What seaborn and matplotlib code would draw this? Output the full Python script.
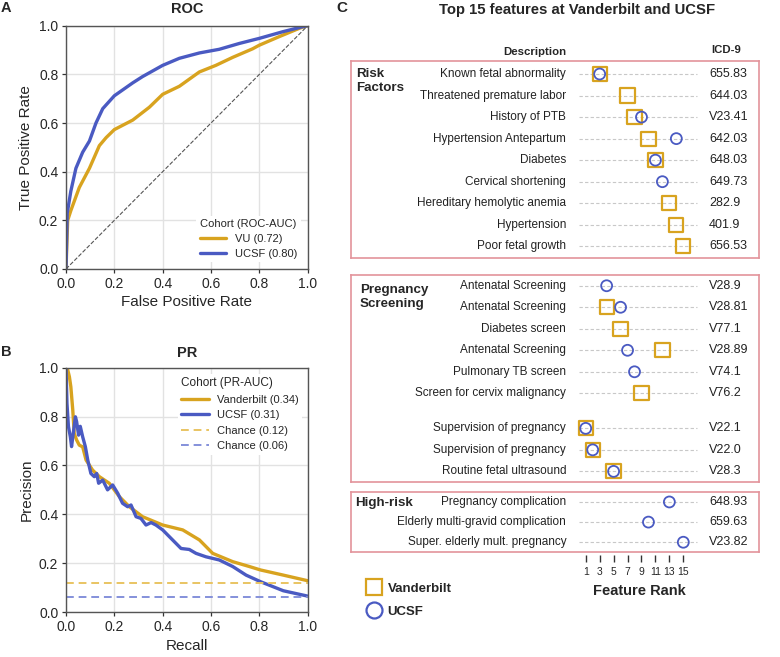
import numpy as np
import pandas as pd
import matplotlib
matplotlib.use('Agg')
import matplotlib.pyplot as plt
from matplotlib.lines import Line2D
import seaborn as sns

# ---- ROC curves
roc_fpr_vu = [0, 0.007, 0.02, 0.055, 0.097, 0.138, 0.166, 0.2, 0.276, 0.345,
              0.4, 0.469, 0.552, 0.62, 0.69, 0.772, 0.8, 0.882, 0.967, 1.0]
roc_tpr_vu = [0, 0.2, 0.24, 0.335, 0.414, 0.507, 0.54, 0.573, 0.612, 0.665,
              0.718, 0.751, 0.81, 0.837, 0.87, 0.905, 0.92, 0.955, 0.99, 1.0]
roc_fpr_ucsf = [0, 0.005, 0.02, 0.041, 0.069, 0.097, 0.124, 0.152, 0.2, 0.276,
                0.317, 0.4, 0.469, 0.552, 0.634, 0.717, 0.8, 0.896, 0.98, 1.0]
roc_tpr_ucsf = [0, 0.229, 0.32, 0.414, 0.48, 0.526, 0.6, 0.659, 0.712, 0.765,
                0.791, 0.837, 0.866, 0.888, 0.903, 0.927, 0.948, 0.975, 0.996, 1.0]
roc_auc = {'VU': 0.72, 'UCSF': 0.80}

# ---- PR curves
pr_recall_vu = [0, 0.005, 0.014, 0.02, 0.028, 0.034, 0.044, 0.055, 0.069, 0.083,
                0.11, 0.138, 0.179, 0.221, 0.262, 0.317, 0.4, 0.483, 0.552, 0.607,
                0.69, 0.759, 0.805, 0.899, 1.0]
pr_prec_vu = [1.0, 1.0, 0.963, 0.922, 0.827, 0.731, 0.704, 0.683, 0.676, 0.622,
              0.581, 0.554, 0.527, 0.472, 0.431, 0.39, 0.356, 0.336, 0.295, 0.24,
              0.206, 0.186, 0.172, 0.151, 0.128]
pr_recall_ucsf = [0, 0.004, 0.01, 0.018, 0.023, 0.03, 0.039, 0.044, 0.052, 0.059,
                  0.069, 0.08, 0.09, 0.103, 0.117, 0.127, 0.135, 0.152, 0.172, 0.193,
                  0.214, 0.234, 0.255, 0.269, 0.29, 0.31, 0.331, 0.352, 0.372, 0.4,
                  0.441, 0.476, 0.51, 0.538, 0.579, 0.634, 0.69, 0.745, 0.805, 0.899, 1.0]
pr_prec_ucsf = [1.0, 0.854, 0.76, 0.717, 0.677, 0.731, 0.799, 0.779, 0.724, 0.76,
                0.717, 0.677, 0.622, 0.567, 0.554, 0.567, 0.527, 0.54, 0.5, 0.52,
                0.486, 0.445, 0.431, 0.438, 0.39, 0.383, 0.356, 0.366, 0.356, 0.336,
                0.295, 0.26, 0.256, 0.24, 0.226, 0.213, 0.186, 0.151, 0.124, 0.087, 0.065]
pr_auc = {'Vanderbilt': 0.34, 'UCSF': 0.31}
pr_chance = {'Vanderbilt': 0.12, 'UCSF': 0.06}

# ---- Top features (rank per cohort, nan = not in that cohort's top 15)
nan = np.nan
risk_desc = ['Known fetal abnormality', 'Threatened premature labor', 'History of PTB',
             'Hypertension Antepartum', 'Diabetes', 'Cervical shortening',
             'Hereditary hemolytic anemia', 'Hypertension', 'Poor fetal growth']
risk_icd = ['655.83', '644.03', 'V23.41', '642.03', '648.03', '649.73', '282.9', '401.9', '656.53']
risk_vu = [3, 7, 8, 10, 11, nan, 13, 14, 15]
risk_ucsf = [3, nan, 9, 14, 11, 12, nan, nan, nan]

screen_desc = ['Antenatal Screening', 'Antenatal Screening', 'Diabetes screen',
               'Antenatal Screening', 'Pulmonary TB screen', 'Screen for cervix malignancy',
               'Supervision of pregnancy', 'Supervision of pregnancy', 'Routine fetal ultrasound']
screen_icd = ['V28.9', 'V28.81', 'V77.1', 'V28.89', 'V74.1', 'V76.2', 'V22.1', 'V22.0', 'V28.3']
screen_vu = [nan, 4, 6, 12, nan, 9, 1, 2, 5]
screen_ucsf = [4, 6, nan, 7, 8, nan, 1, 2, 5]

high_desc = ['Pregnancy complication', 'Elderly multi-gravid complication',
             'Super. elderly mult. pregnancy']
high_icd = ['648.93', '659.63', 'V23.82']
high_vu = [nan, nan, nan]
high_ucsf = [13, 10, 15]

rank_ticks = [1, 3, 5, 7, 9, 11, 13, 15]

gold = '#D8A31F'
blue = '#4A5AC2'
gold_light = '#E9C462'
blue_light = '#8490DA'
box_red = '#E3939B'
dark = '#333333'

sns.set_theme(style='whitegrid')
plt.rcParams['font.family'] = ['Liberation Sans', 'DejaVu Sans']
plt.rcParams['grid.color'] = '#e2e2e2'
plt.rcParams['grid.linewidth'] = 1.0

W, H = 780, 657
fig = plt.figure(figsize=(W / 100, H / 100), dpi=100)


def px_axes(left, top, right, bottom):
    return fig.add_axes([left / W, 1 - bottom / H, (right - left) / W, (bottom - top) / H])


def style_curve_axes(ax):
    ax.set_xlim(0, 1)
    ax.set_ylim(0, 1)
    ax.set_xticks(np.arange(0, 1.01, 0.2))
    ax.set_yticks(np.arange(0, 1.01, 0.2))
    ax.xaxis.set_major_formatter(matplotlib.ticker.FormatStrFormatter('%.1f'))
    ax.yaxis.set_major_formatter(matplotlib.ticker.FormatStrFormatter('%.1f'))
    ax.tick_params(axis='both', direction='out', length=3, width=0.9, color=dark,
                   labelsize=10, pad=2.5, bottom=True, left=True)
    for sp in ax.spines.values():
        sp.set_color('#555555')
        sp.set_linewidth(1.0)


# ---------------- A: ROC
roc_df = pd.concat([
    pd.DataFrame({'FPR': roc_fpr_vu, 'TPR': roc_tpr_vu,
                  'Cohort': f"VU ({roc_auc['VU']:.2f})"}),
    pd.DataFrame({'FPR': roc_fpr_ucsf, 'TPR': roc_tpr_ucsf,
                  'Cohort': f"UCSF ({roc_auc['UCSF']:.2f})"}),
])
ax_roc = px_axes(66, 25.7, 307.7, 269)
sns.lineplot(data=roc_df, x='FPR', y='TPR', hue='Cohort', palette=[gold, blue],
             lw=2.4, estimator=None, sort=False, ax=ax_roc)
ax_roc.plot([0, 1], [0, 1], ls='--', color='#555555', lw=0.8)
style_curve_axes(ax_roc)
ax_roc.set_xlabel('False Positive Rate', fontsize=11, labelpad=3)
ax_roc.set_ylabel('True Positive Rate', fontsize=11)
ax_roc.set_title('ROC', fontsize=10.5, fontweight='bold', pad=9)
sns.move_legend(ax_roc, 'lower right', title='Cohort (ROC-AUC)', fontsize=8,
                title_fontsize=8, frameon=True, facecolor='white', edgecolor='none',
                framealpha=1, handlelength=2.4, handletextpad=0.8, labelspacing=0.45,
                alignment='left', borderaxespad=0.6, borderpad=0.3)

# ---------------- B: PR
pr_df = pd.concat([
    pd.DataFrame({'Recall': pr_recall_vu, 'Precision': pr_prec_vu,
                  'Cohort': f"Vanderbilt ({pr_auc['Vanderbilt']:.2f})"}),
    pd.DataFrame({'Recall': pr_recall_ucsf, 'Precision': pr_prec_ucsf,
                  'Cohort': f"UCSF ({pr_auc['UCSF']:.2f})"}),
])
ax_pr = px_axes(66, 367.7, 307.7, 612)
sns.lineplot(data=pr_df, x='Recall', y='Precision', hue='Cohort', palette=[gold, blue],
             lw=2.4, estimator=None, sort=False, ax=ax_pr)
ax_pr.axhline(pr_chance['Vanderbilt'], ls=(0, (4, 2.5)), color=gold_light, lw=1.4,
              label=f"Chance ({pr_chance['Vanderbilt']:.2f})")
ax_pr.axhline(pr_chance['UCSF'], ls=(0, (4, 2.5)), color=blue_light, lw=1.4,
              label=f"Chance ({pr_chance['UCSF']:.2f})")
style_curve_axes(ax_pr)
ax_pr.set_xlabel('Recall', fontsize=11, labelpad=4)
ax_pr.set_ylabel('Precision', fontsize=11)
ax_pr.set_title('PR', fontsize=10.5, fontweight='bold', pad=8)
h, l = ax_pr.get_legend_handles_labels()
ax_pr.legend(h, l, loc='upper right', title='Cohort (PR-AUC)', fontsize=8,
             title_fontsize=8.5, frameon=True, facecolor='white', edgecolor='none',
             framealpha=1, handlelength=2.5, handletextpad=0.7, labelspacing=0.5,
             alignment='left', borderaxespad=0.55, borderpad=0.3)

# ---------------- C: feature ranks
rank_xlim = (-32.67, 25.9)


def style_points(ax, n_before, color, lw):
    if len(ax.collections) > n_before:
        pts = ax.collections[-1]
        pts.set_facecolor('none')
        pts.set_edgecolor(color)
        pts.set_linewidth(lw)


def draw_group(top, bottom, ylim, label, label_x, label_y, desc, icd, vu, ucsf, gap_after=None):
    ax = px_axes(351, top, 759.3, bottom)
    rows = np.arange(len(desc), dtype=float)
    if gap_after is not None:
        rows = rows + 0.63 * (rows >= gap_after)
    df = pd.DataFrame({'row': rows, 'Vanderbilt': vu, 'UCSF': ucsf})
    ax.hlines(df['row'], 0, 17, colors='#c8c8c8', linestyles=(0, (3, 2)), lw=0.8, zorder=1)
    if df['Vanderbilt'].notna().any():
        n = len(ax.collections)
        sns.scatterplot(data=df, x='Vanderbilt', y='row', marker='s', s=105, ax=ax, zorder=3)
        style_points(ax, n, gold, 1.6)
    if df['UCSF'].notna().any():
        n = len(ax.collections)
        sns.scatterplot(data=df, x='UCSF', y='row', marker='o', s=62, ax=ax, zorder=4)
        style_points(ax, n, blue, 1.3)
    for r, d, c in zip(rows, desc, icd):
        ax.text(-1.8, r, d, ha='right', va='center', fontsize=8.5, color='#222222')
        ax.text(18.7, r, c, ha='left', va='center', fontsize=9, color='#222222')
    ax.text(label_x, label_y, label, ha='left', va='center', fontsize=9.6,
            fontweight='bold', linespacing=1.2)
    ax.set_xlim(rank_xlim)
    ax.set_ylim(ylim)
    ax.set_xticks([])
    ax.set_yticks([])
    ax.set_xlabel('')
    ax.set_ylabel('')
    ax.grid(False)
    ax.set_facecolor('white')
    for sp in ax.spines.values():
        sp.set_color(box_red)
        sp.set_linewidth(1.2)
    return ax


ax_risk = draw_group(61, 257.7, (8.53, -0.605), 'Risk\nFactors', -31.9, 0.34,
                     risk_desc, risk_icd, risk_vu, risk_ucsf)
ax_risk.text(-1.8, -1.01, 'Description', ha='right', va='center', fontsize=8.2, fontweight='bold')
ax_risk.text(19.0, -1.12, 'ICD-9', ha='left', va='center', fontsize=8.2, fontweight='bold')
draw_group(275, 481.7, (9.11, -0.5), 'Pregnancy\nScreening', -31.4, 0.53,
           screen_desc, screen_icd, screen_vu, screen_ucsf, gap_after=6)
draw_group(492.3, 551.7, (2.47, -0.48), 'High-risk', -32.1, 0.03,
           high_desc, high_icd, high_vu, high_ucsf)

# rank axis below the boxes
ax_rank = px_axes(351, 554.5, 759.3, 555)
ax_rank.set_xlim(rank_xlim)
ax_rank.set_xticks(rank_ticks)
ax_rank.set_yticks([])
ax_rank.grid(False)
ax_rank.patch.set_alpha(0)
for sp in ax_rank.spines.values():
    sp.set_visible(False)
ax_rank.tick_params(axis='x', direction='out', length=5.3, width=1.0, color=dark,
                    labelsize=7.5, pad=3, bottom=True)
fig.text(639 / W, 1 - 590.7 / H, 'Feature Rank', ha='center', va='center',
         fontsize=10.5, fontweight='bold')

legend_handles = [
    Line2D([], [], ls='none', marker='s', markersize=11.5, markerfacecolor='none',
           markeredgecolor=gold, markeredgewidth=1.6, label='Vanderbilt'),
    Line2D([], [], ls='none', marker='o', markersize=11.5, markerfacecolor='none',
           markeredgecolor=blue, markeredgewidth=1.6, label='UCSF'),
]
fig.legend(handles=legend_handles, loc='upper left', bbox_to_anchor=(360.7 / W, 1 - 577 / H),
           frameon=False, prop={'size': 9.5, 'weight': 'bold'}, handlelength=1.2,
           handletextpad=0.45, labelspacing=0.85, borderaxespad=0)

# titles and panel letters
fig.text(576.7 / W, 1 - 10 / H, 'Top 15 features at Vanderbilt and UCSF', ha='center',
         va='center', fontsize=10.7, fontweight='bold')
fig.text(342.3 / W, 1 - 7.5 / H, 'C', ha='center', va='center', fontsize=11, fontweight='bold')
fig.text(6 / W, 1 - 7.5 / H, 'A', ha='center', va='center', fontsize=10.5, fontweight='bold')
fig.text(6 / W, 1 - 351.7 / H, 'B', ha='center', va='center', fontsize=10.5, fontweight='bold')

fig.savefig('out.png', dpi=100)
